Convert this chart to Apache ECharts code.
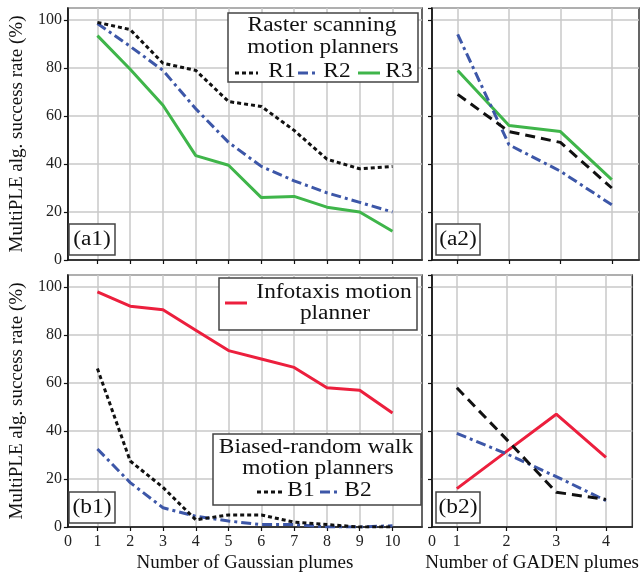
<!DOCTYPE html>
<html>
<head>
<meta charset="utf-8">
<script src="https://cdn.jsdelivr.net/npm/echarts@6/dist/echarts.min.js"></script>
<style>
	html, body {margin: 0; padding: 0; background: #fff;}
	#chart {width: 641px; height: 575px;}
</style>
</head>
<body>
<div id="chart"></div>
<script>
// x 轴
const gaussX = [1, 2, 3, 4, 5, 6, 7, 8, 9, 10];
const gadenX = [1, 2, 3, 4];
const yTicks = [0, 20, 40, 60, 80, 100];

// (a1) Raster scanning, Gaussian
const r1Gauss = [99, 96, 82, 79, 66, 64, 54, 42, 38, 39];
const r2Gauss = [98.5, 89, 79, 63, 49, 39, 33, 28, 24, 20];
const r3Gauss = [93.5, 79.5, 64.5, 43.5, 39.5, 26, 26.5, 22, 20, 12];
// (a2) Raster scanning, GADEN
const r1Gaden = [69, 53.5, 49, 30];
const r2Gaden = [94, 48, 37, 23];
const r3Gaden = [79, 56, 53.5, 33.5];
// (b1) Infotaxis / Biased-random walk, Gaussian
const infoGauss = [98, 92, 90.5, 82, 73.5, 70, 66.5, 58, 57, 47.5];
const b1Gauss = [66, 27.5, 16.5, 3, 5, 5, 2, 1, 0, 0];
const b2Gauss = [32.5, 18.5, 8, 4.5, 2.5, 1, 1, 0, 0, 0.5];
// (b2) Infotaxis / Biased-random walk, GADEN
const infoGaden = [16, 31.5, 47, 29];
const b1Gaden = [58, 36.5, 14.5, 11.5];
const b2Gaden = [39, 30.5, 21, 11];

const FONT = '"Liberation Serif", "Times New Roman", serif';
const BLACK = '#111', BLUE = '#3d57a8', GREEN = '#3fb54a', RED = '#ec1f3d';
const DOT = [4, 3], DASH = [10, 6], DASHDOT = [10, 4, 3, 4];

const chart = echarts.init(document.getElementById('chart'), null, {renderer: 'canvas'});

function pairs(xs, ys){
	return xs.map((x, i) => [x, ys[i]]);
}

function lineSeries(name, idx, xs, ys, color, dash){
	return {
		name: name,
		type: 'line',
		xAxisIndex: idx,
		yAxisIndex: idx,
		data: pairs(xs, ys),
		symbol: 'none',
		smooth: false,
		z: 3,
		lineStyle: {color: color, width: 3, type: dash || 'solid'}
	};
}

function makeX(idx, min, max, ticks, showLabel, name){
	return {
		type: 'value',
		gridIndex: idx,
		min: min,
		max: max,
		axisLine: {show: true, onZero: false, lineStyle: {color: '#111', width: 1.5}},
		axisTick: {show: true, length: 4, customValues: ticks, lineStyle: {color: '#111', width: 1.2}},
		splitLine: {show: true, lineStyle: {color: '#c9c9c9', width: 1.5}},
		axisLabel: {
			show: showLabel,
			customValues: [min].concat(ticks),
			formatter: v => (v === min ? '0' : String(v)),
			fontFamily: FONT,
			fontSize: 16,
			color: '#222',
			margin: 7
		},
		name: name || '',
		nameLocation: 'middle',
		nameGap: 27,
		nameTextStyle: {fontFamily: FONT, fontSize: 19, color: '#111'}
	};
}

function makeY(idx, showLabel){
	return {
		type: 'value',
		gridIndex: idx,
		min: 0,
		max: 105,
		interval: 20,
		axisLine: {show: true, lineStyle: {color: '#111', width: 1.5}},
		axisTick: {show: true, length: 4, lineStyle: {color: '#111', width: 1.2}},
		splitLine: {show: true, lineStyle: {color: '#c9c9c9', width: 1.5}},
		axisLabel: {
			show: showLabel,
			showMaxLabel: false,
			fontFamily: FONT,
			fontSize: 16,
			color: '#222',
			margin: 6
		},
		name: showLabel ? 'MultiPLE alg. success rate (%)' : '',
		nameLocation: 'middle',
		nameGap: 38,
		nameTextStyle: {fontFamily: FONT, fontSize: 19, color: '#111'}
	};
}

// 图例里的文字，稍微横向拉宽
function txt(text, x, y, size){
	return {
		type: 'text',
		x: x,
		y: y,
		scaleX: 1.17,
		z: 20,
		style: {
			text: text,
			x: 0,
			y: 0,
			textAlign: 'center',
			textVerticalAlign: 'middle',
			font: 'normal ' + (size || 20) + 'px ' + FONT,
			fill: '#111'
		}
	};
}

function box(x, y, w, h){
	return {
		type: 'rect',
		z: 19,
		shape: {x: x, y: y, width: w, height: h},
		style: {fill: '#fff', stroke: '#444', lineWidth: 1.5}
	};
}

function sample(x1, x2, y, color, dash){
	return {
		type: 'line',
		z: 20,
		shape: {x1: x1, y1: y, x2: x2, y2: y},
		style: {stroke: color, lineWidth: 3, lineDash: dash || null}
	};
}

const grids = [
	{left: 67, top: 8, width: 355, height: 252},
	{left: 432, top: 8, width: 207, height: 252},
	{left: 67, top: 275, width: 355, height: 252},
	{left: 432, top: 275, width: 207, height: 252}
].map(g => Object.assign(g, {show: true, borderColor: '#333', borderWidth: 1.5, backgroundColor: 'transparent'}));

const option = {
	animation: false,
	backgroundColor: '#fff',
	grid: grids,
	xAxis: [
		makeX(0, 0.1, 10.9, gaussX, false),
		makeX(1, 0.5, 4.53, gadenX, false),
		makeX(2, 0.1, 10.9, gaussX, true, 'Number of Gaussian plumes'),
		makeX(3, 0.5, 4.53, gadenX, true, 'Number of GADEN plumes')
	],
	yAxis: [makeY(0, true), makeY(1, false), makeY(2, true), makeY(3, false)],
	series: [
		lineSeries('R3', 0, gaussX, r3Gauss, GREEN),
		lineSeries('R2', 0, gaussX, r2Gauss, BLUE, DASHDOT),
		lineSeries('R1', 0, gaussX, r1Gauss, BLACK, DOT),
		lineSeries('R3', 1, gadenX, r3Gaden, GREEN),
		lineSeries('R2', 1, gadenX, r2Gaden, BLUE, DASHDOT),
		lineSeries('R1', 1, gadenX, r1Gaden, BLACK, DASH),
		lineSeries('Infotaxis', 2, gaussX, infoGauss, RED),
		lineSeries('B2', 2, gaussX, b2Gauss, BLUE, DASHDOT),
		lineSeries('B1', 2, gaussX, b1Gauss, BLACK, DOT),
		lineSeries('Infotaxis', 3, gadenX, infoGaden, RED),
		lineSeries('B2', 3, gadenX, b2Gaden, BLUE, DASHDOT),
		lineSeries('B1', 3, gadenX, b1Gaden, BLACK, DASH)
	],
	graphic: [
		// Raster scanning 图例
		box(228, 13, 190, 69),
		txt('Raster scanning', 322, 26),
		txt('motion planners', 323, 48),
		sample(235, 258, 73, BLACK, DOT),
		txt('R1', 282, 72),
		sample(298, 317, 73, BLUE, DASHDOT),
		txt('R2', 337, 72),
		sample(358, 380, 73, GREEN),
		txt('R3', 399, 72),
		// Infotaxis 图例
		box(219, 278, 198, 52),
		sample(225, 247, 303, RED),
		txt('Infotaxis motion', 334, 293),
		txt('planner', 335, 314),
		// Biased-random walk 图例
		box(213, 434, 208, 71),
		txt('Biased-random walk', 316, 448),
		txt('motion planners', 318, 469),
		sample(257, 282, 492, BLACK, DOT),
		txt('B1', 301, 491),
		sample(320, 338, 492, BLUE, DASHDOT),
		txt('B2', 358, 491),
		// 子图编号
		box(69, 224, 46, 31), txt('(a1)', 92, 240),
		box(436, 224, 44, 31), txt('(a2)', 458, 240),
		box(69, 492, 46, 31), txt('(b1)', 92, 508),
		box(436, 492, 44, 31), txt('(b2)', 458, 508)
	]
};

chart.setOption(option);
</script>
</body>
</html>
